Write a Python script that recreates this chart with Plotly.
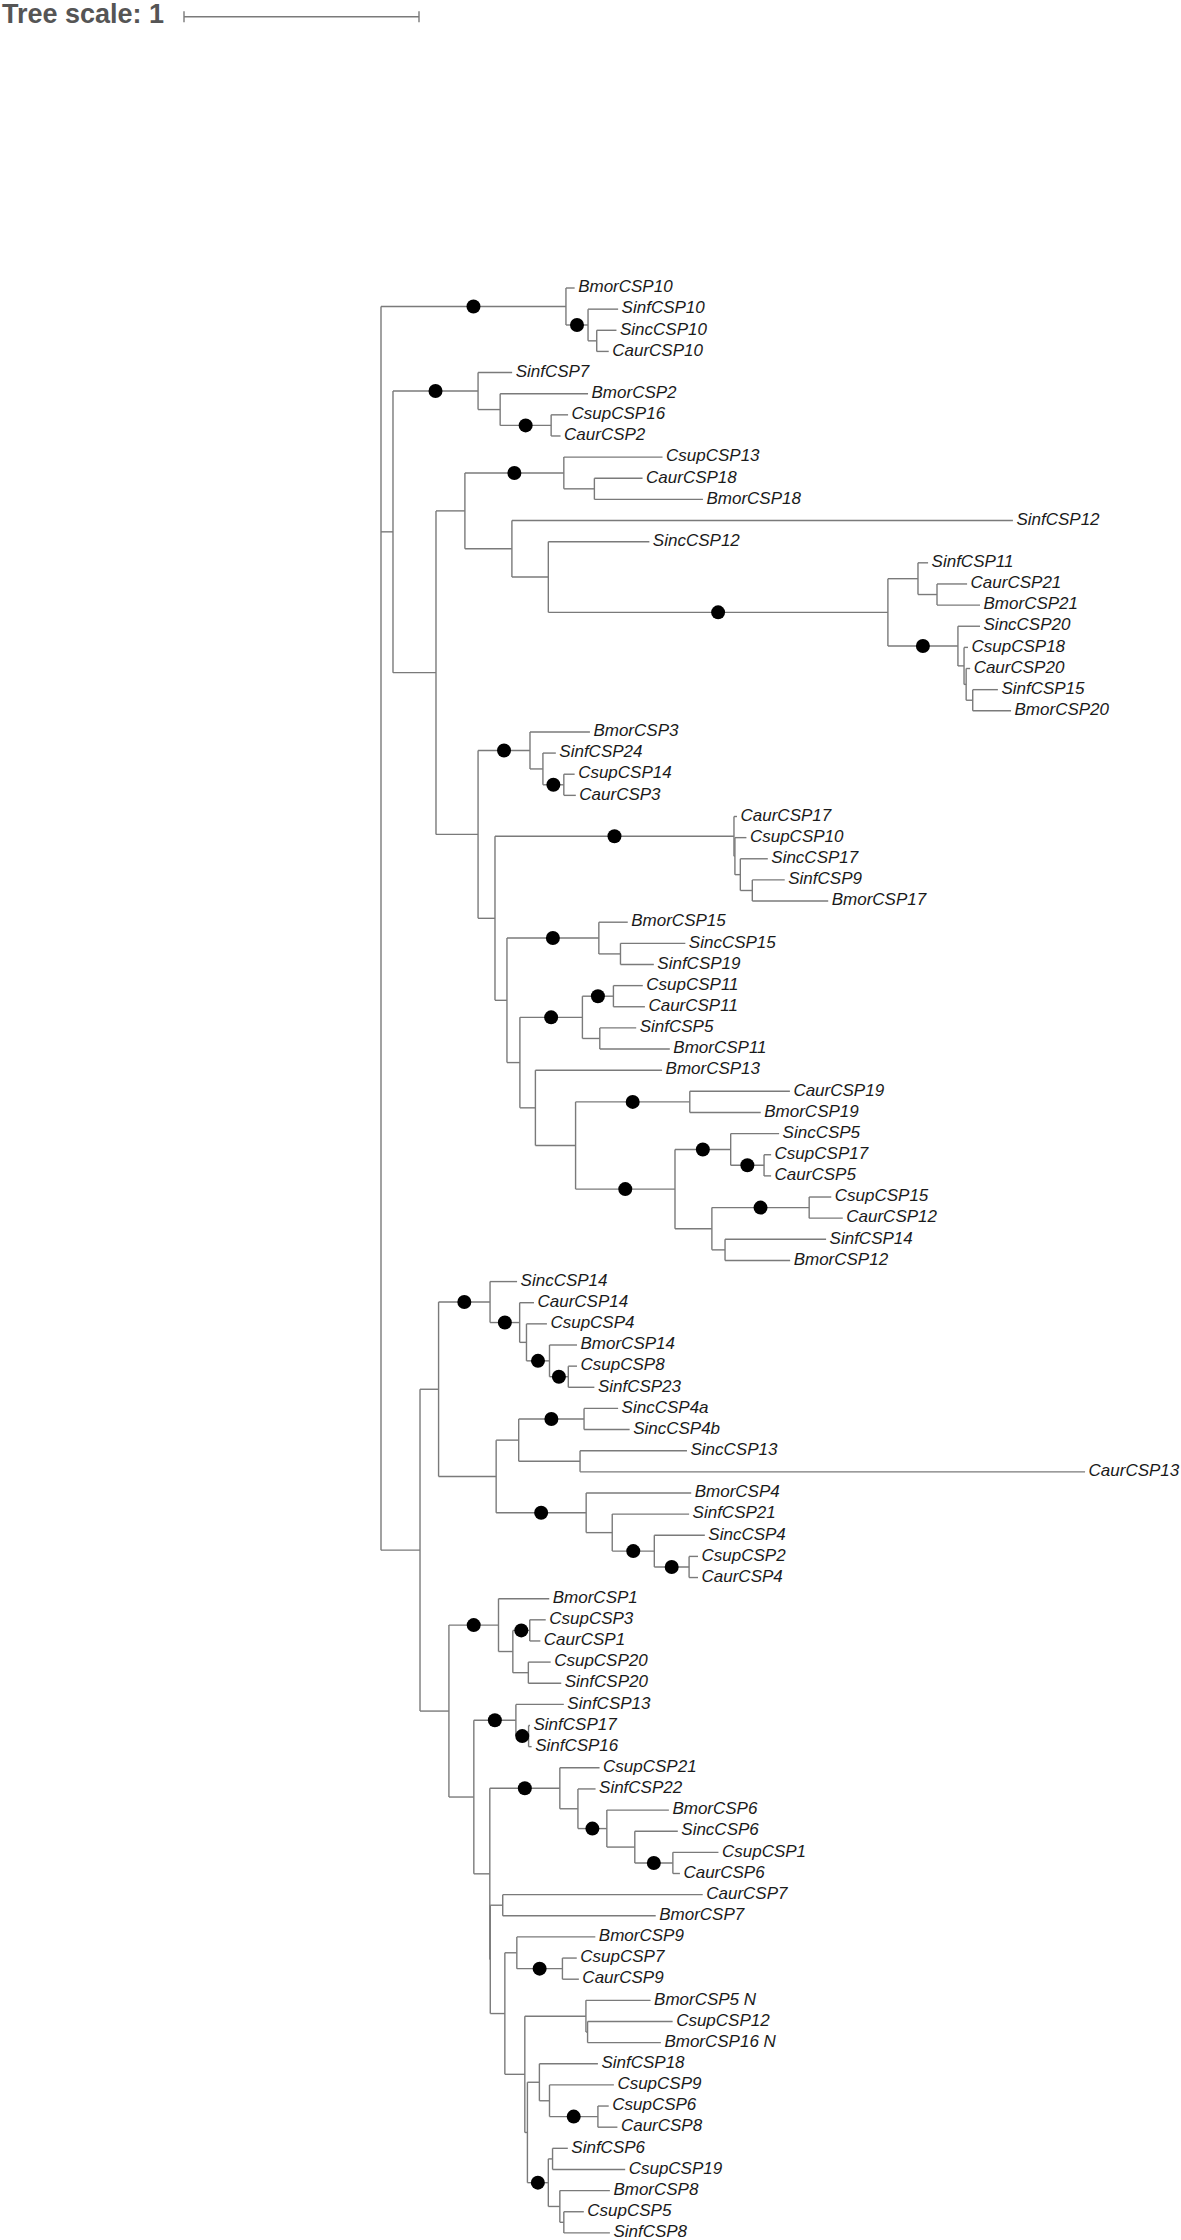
import plotly.graph_objects as go

# ---------------- data: tree topology + branch lengths (Newick pieces) ----------------
# "*" marks a node with a support dot; "_" in names is a space
CLADE_A = "(BmorCSP10:0.037,(SinfCSP10:0.128,(SincCSP10:0.084,CaurCSP10:0.051):0.037)*:0.094)*:0.787"

CLADE_B = "(SinfCSP7:0.145,(BmorCSP2:0.374,(CsupCSP16:0.072,CaurCSP2:0.040)*:0.217):0.094)*:0.362"

C1A = "(CsupCSP13:0.420,(CaurCSP18:0.205,BmorCSP18:0.462):0.130)*:0.421"
C6 = "(SinfCSP11:0.043,(CaurCSP21:0.128,BmorCSP21:0.183):0.081):0.128"
C7 = "(SincCSP20:0.094,(CsupCSP18:0.017,(CaurCSP20:0.017,(SinfCSP15:0.107,BmorCSP20:0.163):0.028):0.009):0.026)*:0.298"
C5 = "(" + C6 + "," + C7 + ")*:1.445"
C4 = "(SincCSP12:0.430," + C5 + "):0.155"
C3 = "(SinfCSP12:2.132," + C4 + "):0.200"
C1 = "(" + C1A + "," + C3 + "):0.123"

C2A = "(BmorCSP3:0.255,(SinfCSP24:0.055,(CsupCSP14:0.046,CaurCSP3:0.051)*:0.089):0.055)*:0.221"
C9 = "(CaurCSP17:0.013,(CsupCSP10:0.049,(SincCSP17:0.117,(SinfCSP9:0.138,BmorCSP17:0.323):0.051):0.023):0.004)*:1.017"
C11 = "(BmorCSP15:0.123,(SincCSP15:0.276,SinfCSP19:0.142):0.092)*:0.391"
C13 = "((CsupCSP11:0.125,CaurCSP11:0.134)*:0.132,(SinfCSP5:0.155,BmorCSP11:0.298):0.074)*:0.266"
C16 = "(CaurCSP19:0.426,BmorCSP19:0.302)*:0.486"
C18 = "(SincCSP5:0.206,(CsupCSP17:0.030,CaurCSP5:0.030)*:0.142)*:0.237"
C19 = "((CsupCSP15:0.094,CaurCSP12:0.143)*:0.414,(SinfCSP14:0.430,BmorCSP12:0.277):0.056):0.157"
C17 = "(" + C18 + "," + C19 + ")*:0.423"
C15 = "(" + C16 + "," + C17 + "):0.171"
C14 = "(BmorCSP13:0.539," + C15 + "):0.066"
C12 = "(" + C13 + "," + C14 + "):0.055"
C10 = "(" + C11 + "," + C12 + "):0.051"
C8 = "(" + C9 + "," + C10 + "):0.072"
C2 = "(" + C2A + "," + C8 + "):0.179"
CLADE_C = "(" + C1 + "," + C2 + "):0.183"
N1 = "(" + CLADE_B + "," + CLADE_C + "):0.051"

D1 = "(SincCSP14:0.115,(CaurCSP14:0.061,(CsupCSP4:0.087,(BmorCSP14:0.117,(CsupCSP8:0.037,SinfCSP23:0.111)*:0.080)*:0.098):0.029)*:0.126)*:0.219"
D7 = "((SincCSP4a:0.145,SincCSP4b:0.194)*:0.278,(SincCSP13:0.455,CaurCSP13:2.149):0.261):0.096"
D10 = "(BmorCSP4:0.447,(SinfCSP21:0.327,(SincCSP4:0.215,(CsupCSP2:0.038,CaurCSP4:0.038)*:0.148)*:0.179):0.111)*:0.383"
D6 = "(" + D7 + "," + D10 + "):0.245"
CLADE_D = "(" + D1 + "," + D6 + "):0.079"

E1 = "(BmorCSP1:0.216,((CsupCSP3:0.068,CaurCSP1:0.045)*:0.072,(CsupCSP20:0.095,SinfCSP20:0.140):0.066):0.061)*:0.211"
E3 = "(SinfCSP13:0.204,(SinfCSP17:0.006,SinfCSP16:0.013)*:0.054)*:0.179"
E5 = "(CsupCSP21:0.169,(SinfCSP22:0.075,(BmorCSP6:0.264,(SincCSP6:0.183,(CsupCSP1:0.194,CaurCSP6:0.030)*:0.162):0.119)*:0.123):0.077)*:0.298"
E6 = "(CaurCSP7:0.851,BmorCSP7:0.651):0.053"
E8 = "(BmorCSP9:0.334,(CsupCSP7:0.061,CaurCSP9:0.070)*:0.194):0.051"
E10 = "(BmorCSP5_N:0.275,(CsupCSP12:0.362,BmorCSP16_N:0.312):0.007):0.260"
E12 = "(SinfCSP18:0.249,(CsupCSP9:0.274,(CsupCSP6:0.046,CaurCSP8:0.083)*:0.206):0.043):0.051"
E13 = "((SinfCSP6:0.065,CsupCSP19:0.309):0.018,(BmorCSP8:0.213,(CsupCSP5:0.085,SinfCSP8:0.196):0.017):0.049)*:0.089"
E11 = "(" + E12 + "," + E13 + "):0.011"
E9 = "(" + E10 + "," + E11 + "):0.085"
E7 = "(" + E8 + "," + E9 + "):0.062"
E4B = "(" + E6 + "," + E7 + "):0.002"
E4 = "(" + E5 + "," + E4B + "):0.068"
E2 = "(" + E3 + "," + E4 + "):0.106"
CLADE_E = "(" + E1 + "," + E2 + "):0.123"
N2 = "(" + CLADE_D + "," + CLADE_E + "):0.166"

TREE = "(" + CLADE_A + "," + N1 + "," + N2 + ");"

SCALE_LEN = 1
SCALE_TEXT = "Tree scale: 1"

# ---------------- parse newick ----------------
class Node:
    def __init__(self):
        self.children = []
        self.name = ""
        self.label = ""
        self.bl = 0.0
        self.x = 0.0
        self.y = 0.0


def parse(s):
    pos = [0]

    def read_token():
        start = pos[0]
        while pos[0] < len(s) and s[pos[0]] not in ",():;":
            pos[0] += 1
        return s[start:pos[0]]

    def node():
        n = Node()
        if s[pos[0]] == "(":
            pos[0] += 1
            n.children.append(node())
            while s[pos[0]] == ",":
                pos[0] += 1
                n.children.append(node())
            assert s[pos[0]] == ")", s[pos[0]:pos[0] + 20]
            pos[0] += 1
            n.label = read_token()
        else:
            n.name = read_token().replace("_", " ")
        if pos[0] < len(s) and s[pos[0]] == ":":
            pos[0] += 1
            n.bl = float(read_token())
        return n

    return node()


root = parse(TREE)
leaves = []


def layout(n, x):
    n.x = x + n.bl
    if not n.children:
        n.y = len(leaves)
        leaves.append(n)
    else:
        for c in n.children:
            layout(c, n.x)
        n.y = (n.children[0].y + n.children[-1].y) / 2


root.bl = 0.0
layout(root, 0.0)

hx, hy, dx, dy = [], [], [], []


def collect(n, parent):
    if parent is not None:
        hx.extend([parent.x, n.x, None])
        hy.extend([n.y, n.y, None])
        if n.label == "*":
            dx.append((parent.x + n.x) / 2)
            dy.append(n.y)
    if n.children:
        hx.extend([n.x, n.x, None])
        hy.extend([n.children[0].y, n.children[-1].y, None])
        for c in n.children:
            collect(c, n)


collect(root, None)

# ---------------- figure ----------------
W, H = 1181, 2240
PX_PER_UNIT = 235.0
ROOT_PX = 381.0
LEAF0_PX = 288.0
LEAF_STEP = 21.14

xr = [-ROOT_PX / PX_PER_UNIT, (W - ROOT_PX) / PX_PER_UNIT]
yr = [(H - LEAF0_PX) / LEAF_STEP, -LEAF0_PX / LEAF_STEP]

fig = go.Figure()
fig.add_trace(go.Scatter(x=hx, y=hy, mode="lines",
                         line=dict(color="#7a7a7a", width=1.4),
                         hoverinfo="skip", showlegend=False))
fig.add_trace(go.Scatter(x=dx, y=dy, mode="markers",
                         marker=dict(color="black", size=14, line=dict(width=0)),
                         hoverinfo="skip", showlegend=False))
fig.add_trace(go.Scatter(x=[l.x for l in leaves], y=[l.y for l in leaves],
                         mode="markers+text", text=[l.name for l in leaves],
                         marker=dict(size=4, color="rgba(0,0,0,0)", line=dict(width=0)),
                         textposition="middle right",
                         textfont=dict(family="Liberation Sans, Arial, sans-serif",
                                       size=17, color="#1a1a1a", style="italic"),
                         hoverinfo="skip", showlegend=False))

# scale bar (in tree units)
sb_x0 = (184 - ROOT_PX) / PX_PER_UNIT
sb_y = (16.7 - LEAF0_PX) / LEAF_STEP
tick = 5.5 / LEAF_STEP
sbx = [sb_x0, sb_x0 + SCALE_LEN, None, sb_x0, sb_x0, None, sb_x0 + SCALE_LEN, sb_x0 + SCALE_LEN]
sby = [sb_y, sb_y, None, sb_y - tick, sb_y + tick, None, sb_y - tick, sb_y + tick]
fig.add_trace(go.Scatter(x=sbx, y=sby, mode="lines",
                         line=dict(color="#7a7a7a", width=1.4),
                         hoverinfo="skip", showlegend=False))

fig.add_annotation(text="<b>" + SCALE_TEXT + "</b>", xref="paper", yref="paper",
                   x=0.0, y=1.0, xanchor="left", yanchor="top", xshift=0, yshift=3,
                   showarrow=False,
                   font=dict(family="Liberation Sans, Arial, sans-serif", size=27, color="#555555"))

fig.update_layout(
    width=W, height=H,
    margin=dict(l=0, r=0, t=0, b=0),
    paper_bgcolor="white", plot_bgcolor="white",
    xaxis=dict(range=xr, visible=False, fixedrange=True),
    yaxis=dict(range=yr, visible=False, fixedrange=True),
)

fig.write_html("out.html", config={"displayModeBar": False},
               post_script="document.body.style.margin='0';")
